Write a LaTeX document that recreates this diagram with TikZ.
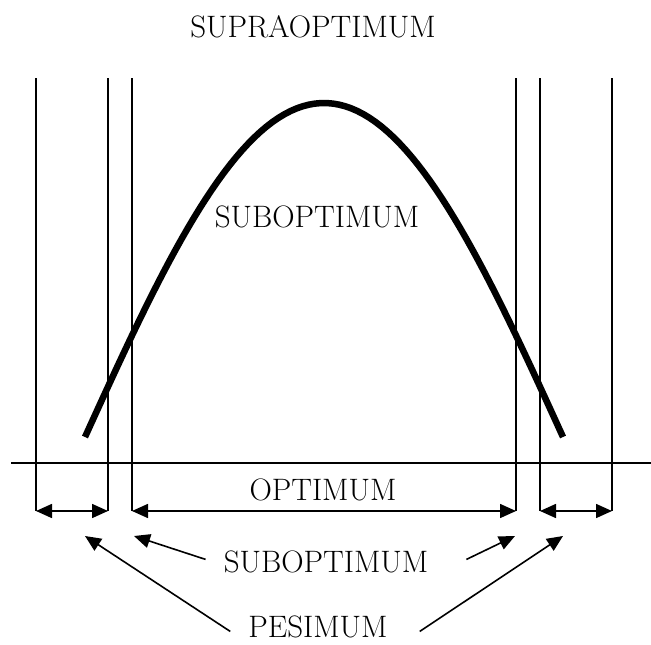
\documentclass[tikz,border=0pt]{standalone}
\usepackage{tikz}
\usetikzlibrary{arrows.meta,positioning}

\begin{document}
\begin{tikzpicture}[
  x=1pt,y=-1pt,
  label/.style={font=\fontsize{31}{33}\selectfont,anchor=base,inner sep=0pt},
  rule/.style={line width=1.6pt},
  dim/.style={rule,{Triangle[length=16pt,width=14pt]}-{Triangle[length=16pt,width=14pt]}},
  pointer/.style={rule,-{Triangle[length=16pt,width=14pt]}},
  curve/.style={line width=6.5pt}
]
\useasboundingbox (0,0) rectangle (651,645);

% vertical limits and ground line
\foreach \n/\xx in {1/36,2/108,3/132,4/516,5/540,6/612}{
  \coordinate (t\n) at (\xx,78);
  \coordinate (b\n) at (\xx,511);
  \draw[rule] (t\n) -- (b\n);
}
\coordinate (axisL) at (11,463);
\coordinate (axisR) at (651,463);
\draw[rule] (axisL) -- (axisR);

% response curve
\draw[curve] plot[domain=-90:90,samples=80] ({324+2.6556*\x},{437-334*cos(\x)});

% labels
\node[label] (supra)  at (313,37)  {SUPRAOPTIMUM};
\node[label] (subIn)  at (317,227) {SUBOPTIMUM};
\node[label] (opt)    at (323,500) {OPTIMUM};
\node[label] (subLow) at (326,572) {SUBOPTIMUM};
\node[label] (pes)    at (318,637) {PESIMUM};

% ranges
\draw[dim] (b1) -- (b2);
\draw[dim] (b3) -- (b4);
\draw[dim] (b5) -- (b6);

% pointers
\coordinate (tipSubL) at (134,536);
\coordinate (tipSubR) at (515,536);
\coordinate (tipPesL) at (85,536);
\coordinate (tipPesR) at (563,536);
\draw[pointer] ([shift={(-18,-2)}]subLow.west) -- (tipSubL);
\draw[pointer] ([shift={(38,-2)}]subLow.east) -- (tipSubR);
\draw[pointer] ([shift={(-18,5)}]pes.west) -- (tipPesL);
\draw[pointer] ([shift={(32,5)}]pes.east) -- (tipPesR);
\end{tikzpicture}
\end{document}
